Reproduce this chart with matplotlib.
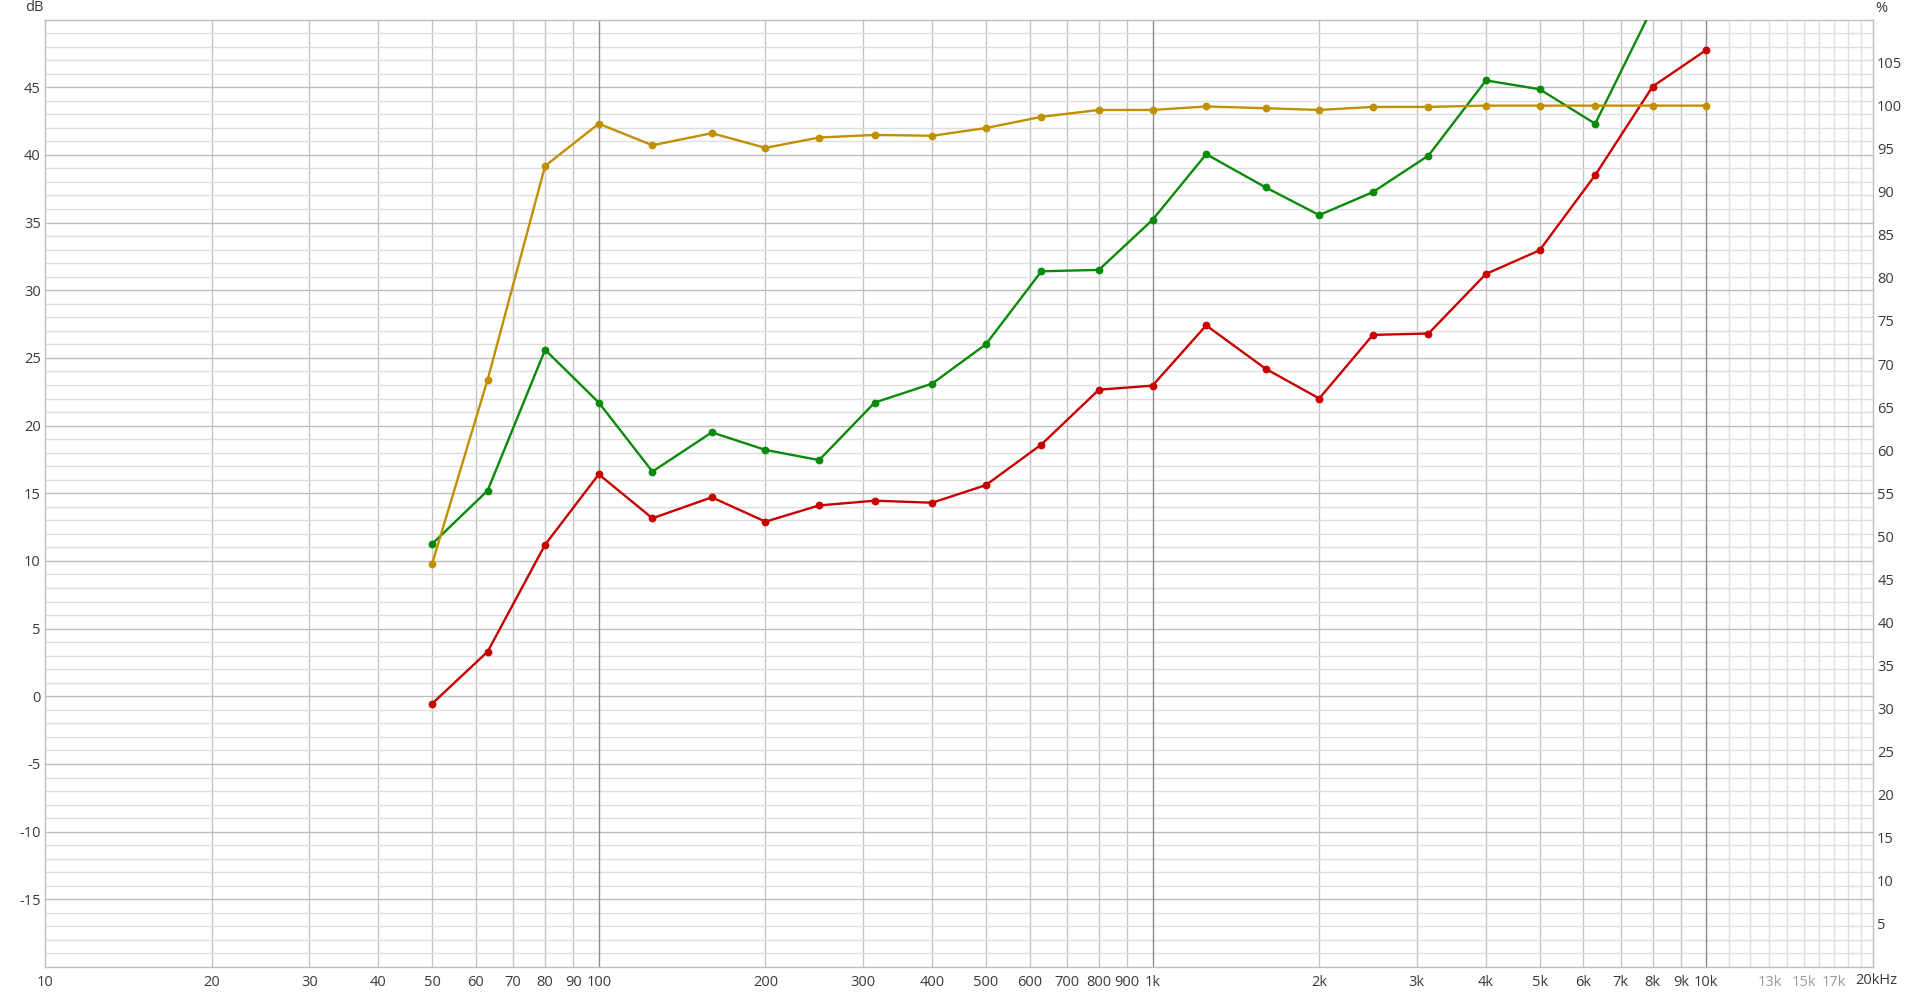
import matplotlib
matplotlib.use("Agg")
import matplotlib.pyplot as plt
import matplotlib.transforms as mtransforms

plt.rcParams['font.family'] = ['Open Sans', 'DejaVu Sans']
plt.rcParams['axes.unicode_minus'] = False

# ---- data ----
freqs = [50, 63, 80, 100, 125, 160, 200, 250, 315, 400, 500, 630, 800,
         1000, 1250, 1600, 2000, 2500, 3150, 4000, 5000, 6300, 8000, 10000]
red_db = [-0.55, 3.3, 11.2, 16.4, 13.15, 14.7, 12.9, 14.1, 14.45, 14.3, 15.6,
          18.6, 22.65, 22.95, 27.4, 24.2, 22.0, 26.7, 26.8, 31.2, 32.95,
          38.5, 45.05, 47.75]
green_freqs = freqs[:23]
green_db = [11.25, 15.2, 25.6, 21.7, 16.6, 19.5, 18.2, 17.45, 21.7, 23.1, 26.0,
            31.4, 31.5, 35.2, 40.05, 37.6, 35.55, 37.25, 39.95, 45.5, 44.85,
            42.3, 50.9]
gold_pct = [46.8, 68.2, 93.0, 97.9, 95.4, 96.8, 95.1, 96.3, 96.6, 96.5, 97.4,
            98.7, 99.5, 99.5, 99.9, 99.7, 99.5, 99.85, 99.85, 100.0, 100.0,
            100.0, 100.0, 100.0]

x_ticks = [10, 20, 30, 40, 50, 60, 70, 80, 90, 100, 200, 300, 400, 500, 600,
           700, 800, 900, 1000, 2000, 3000, 4000, 5000, 6000, 7000, 8000,
           9000, 10000, 13000, 15000, 17000]
x_labels = ['10', '20', '30', '40', '50', '60', '70', '80', '90', '100', '200',
            '300', '400', '500', '600', '700', '800', '900', '1k', '2k', '3k',
            '4k', '5k', '6k', '7k', '8k', '9k', '10k', '13k', '15k', '17k']
light_labels = ['13k', '15k', '17k']
decades = [100, 1000, 10000]
minor_lines = [f for f in x_ticks if f not in decades and f not in (10, 13000, 15000, 17000)]
hf_lines = [11000, 12000, 13000, 14000, 15000, 16000, 17000, 18000, 19000]

db_ticks = [-15, -10, -5, 0, 5, 10, 15, 20, 25, 30, 35, 40, 45]
pct_ticks = [5, 10, 15, 20, 25, 30, 35, 40, 45, 50, 55, 60, 65, 70, 75, 80, 85,
             90, 95, 100, 105]

W, H = 1920, 992
fig = plt.figure(figsize=(W / 100, H / 100), dpi=100)
L, R, T, B = 45, 1873, 19.5, 967
ax = fig.add_axes([L / W, 1 - B / H, (R - L) / W, (B - T) / H])
ax.set_xscale('log')
ax.set_xlim(10, 20000)
ax.set_ylim(-20, 50)

text_c = '#3a3a3a'
# horizontal grid
ax.set_yticks(db_ticks)
ax.set_yticks(range(-19, 50), minor=True)
ax.grid(True, axis='y', which='major', color='#bdbdbd', lw=1.0, zorder=0)
ax.grid(True, axis='y', which='minor', color='#dedede', lw=1.0, zorder=0)
ax.set_axisbelow(True)
# vertical grid
for f in minor_lines:
    ax.axvline(f, color='#c4c4c4', lw=1.0, zorder=0.5)
for f in hf_lines:
    ax.axvline(f, color='#e0e0e0', lw=1.0, zorder=0.5)
for f in decades:
    ax.axvline(f, color='#8c8c8c', lw=1.0, zorder=0.6)

ax.set_xticks(x_ticks)
ax.set_xticklabels(x_labels)
ax.xaxis.set_minor_locator(matplotlib.ticker.NullLocator())
ax.tick_params(axis='x', length=0, pad=6, labelsize=10.5, colors=text_c)
ax.tick_params(axis='y', which='both', length=0, pad=3, labelsize=10.5, colors=text_c)
for lab in ax.get_xticklabels():
    if lab.get_text() in light_labels:
        lab.set_color('#9a9a9a')
for s in ax.spines.values():
    s.set_color('#bdbdbd')
    s.set_linewidth(1.0)

# 20kHz label
off = mtransforms.offset_copy(ax.get_xaxis_transform(), fig=fig, x=-18, y=-6, units='dots')
ax.text(20000, 0, '20kHz', transform=off, ha='left', va='top', fontsize=10.5,
        color=text_c, clip_on=False)

ax.plot(freqs, red_db, color='#c80000', lw=1.7, marker='o', ms=4.6, zorder=3)
ax.plot(green_freqs, green_db, color='#0a8a0a', lw=1.7, marker='o', ms=4.6, zorder=3)

ax2 = ax.twinx()
ax2.set_ylim(0, 110)
ax2.set_yticks(pct_ticks)
ax2.tick_params(axis='y', length=0, pad=3, labelsize=10.5, colors=text_c)
for s in ax2.spines.values():
    s.set_visible(False)
ax2.plot(freqs, gold_pct, color='#c09000', lw=1.7, marker='o', ms=4.6, zorder=3)

fig.text(43 / W, 1 - 7.5 / H, 'dB', ha='right', va='center', fontsize=10.5, color=text_c)
fig.text(1875 / W, 1 - 8 / H, '%', ha='left', va='center', fontsize=10.5, color=text_c)

fig.savefig('out.png', dpi=100)
